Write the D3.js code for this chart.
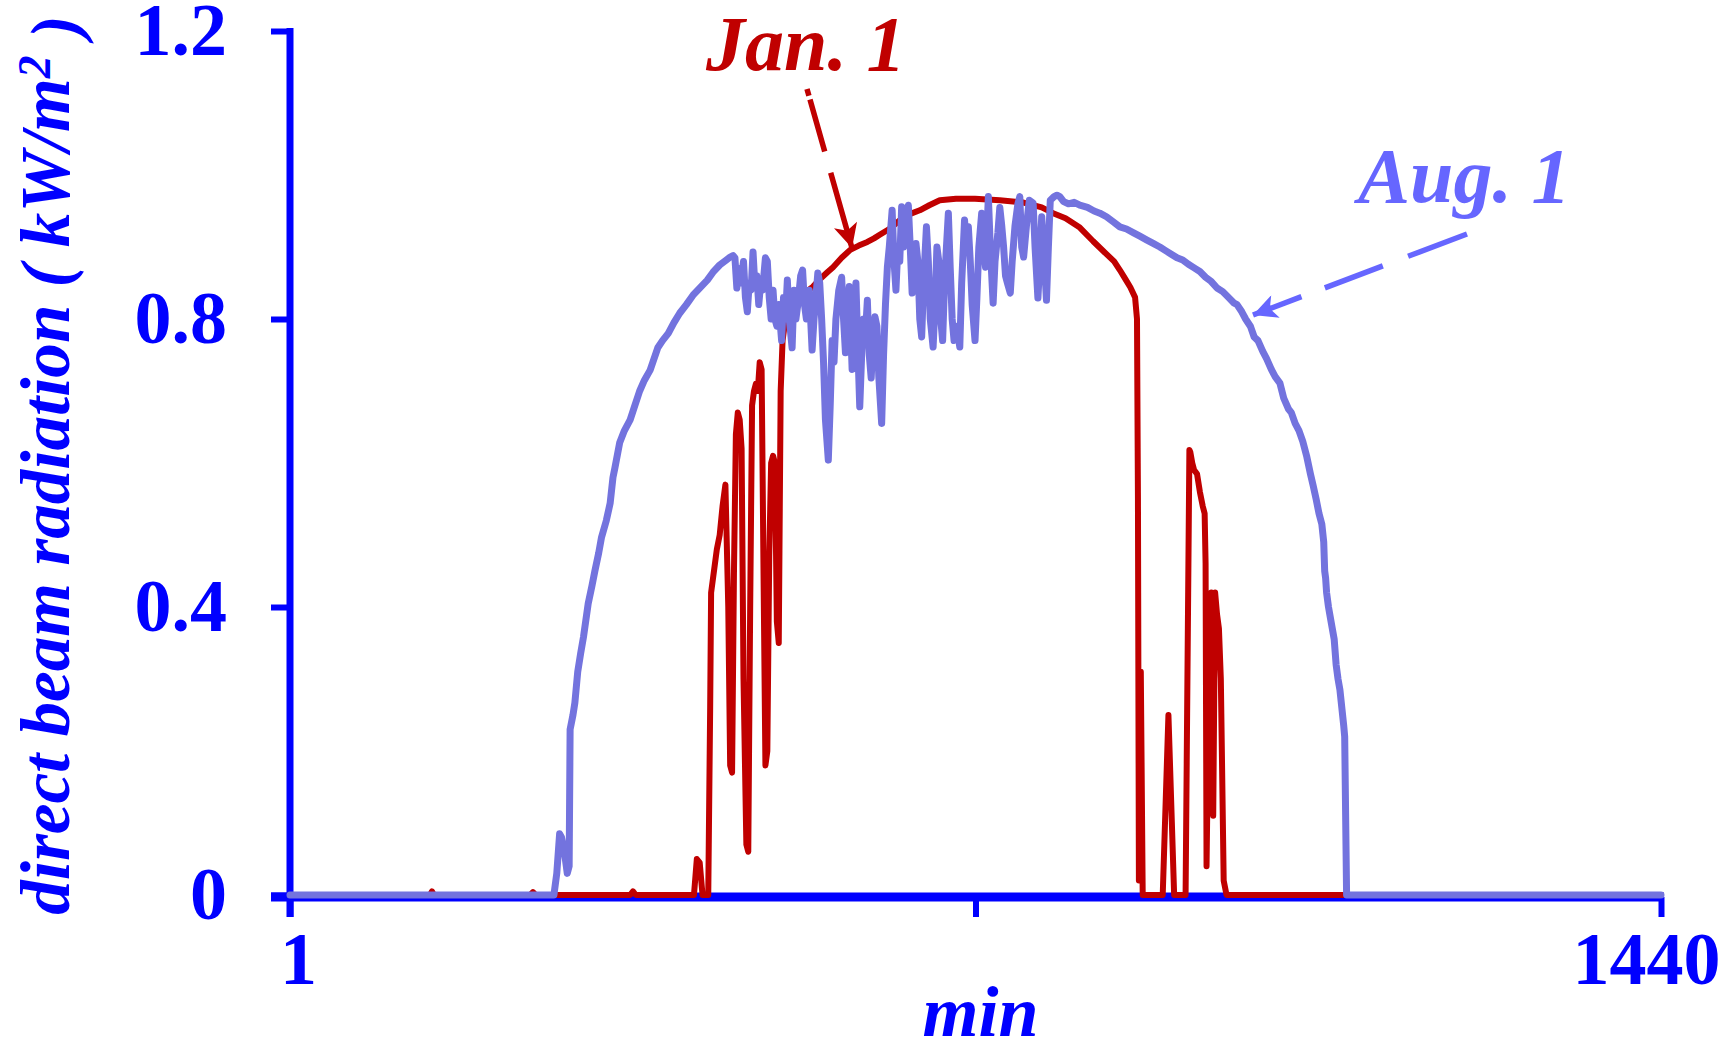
<!DOCTYPE html>
<html>
<head>
<meta charset="utf-8">
<script src="https://cdn.jsdelivr.net/npm/d3@7"></script>
<style>
html, body { margin: 0; padding: 0; background: #fff; }
svg { display: block; }
text { font-family: "Liberation Serif", "Times New Roman", serif; }
</style>
</head>
<body>
<svg id="chart" width="1736" height="1052"></svg>
<script>
// minute of day, direct beam radiation (kW/m2)
const jan1 = [
  [1,0],[148,0],[150,0.005],[152,0],[253,0],[256,0.004],[259,0],[358,0],[361,0.005],[364,0],
  [425,0],[428,0.05],[431,0.045],[434,0],[440,0],[442,0.26],[443,0.42],[446,0.45],[449,0.48],
  [452,0.5],[455,0.54],[458,0.57],[461,0.4],[463,0.18],[465,0.17],[467,0.45],[469,0.64],
  [471,0.67],[473,0.66],[475,0.62],[477,0.3],[480,0.07],[482,0.06],[484,0.4],[486,0.68],
  [488,0.7],[490,0.71],[492,0.7],[494,0.74],[496,0.73],[498,0.45],[500,0.18],[502,0.2],
  [504,0.47],[506,0.6],[508,0.61],[510,0.6],[512,0.38],[514,0.35],[516,0.7],[518,0.77],
  [521,0.8],[525,0.82],[530,0.83],[540,0.835],[550,0.845],[557,0.855],[565,0.865],[571,0.872],
  [580,0.885],[589,0.896],[598,0.902],[607,0.907],[614,0.912],[620,0.917],[630,0.925],
  [641,0.937],[650,0.945],[662,0.951],[672,0.958],[683,0.965],[700,0.967],[720,0.967],
  [746,0.965],[770,0.962],[790,0.955],[802,0.947],[815,0.94],[830,0.927],[844,0.908],
  [858,0.89],[866,0.88],[872,0.868],[878,0.855],[883,0.844],[888,0.83],[890,0.8],[891,0.55],
  [892,0.02],[894,0.31],[896,0],[917,0],[923,0.25],[929,0],[941,0],[945,0.618],[946,0.615],
  [948,0.6],[950,0.59],[953,0.585],[956,0.56],[959,0.54],[961,0.53],[962,0.46],[963,0.04],
  [966,0.35],[968,0.42],[970,0.11],[972,0.42],[974,0.39],[976,0.37],[978,0.3],[981,0.02],
  [984,0],[1440,0]
];

const aug1 = [
  [1,0],[278,0],[281,0.03],[284,0.085],[286,0.08],[289,0.06],[292,0.03],[294,0.04],[295,0.23],
  [298,0.25],[300,0.267],[303,0.31],[306,0.335],[309,0.358],[314,0.405],[318,0.43],[321,0.45],
  [325,0.475],[328,0.497],[333,0.52],[337,0.544],[340,0.58],[342,0.593],[347,0.628],[352,0.645],
  [358,0.66],[363,0.68],[368,0.7],[373,0.715],[379,0.729],[387,0.76],[392,0.77],[398,0.78],
  [404,0.795],[410,0.808],[417,0.82],[424,0.833],[431,0.843],[439,0.854],[445,0.865],[452,0.875],
  [459,0.882],[463,0.886],[466,0.888],[468,0.885],[470,0.843],[472,0.87],[474,0.85],[477,0.88],
  [479,0.83],[481,0.81],[483,0.85],[485,0.84],[487,0.893],[489,0.845],[491,0.86],[493,0.82],
  [495,0.85],[497,0.84],[500,0.885],[502,0.88],[504,0.83],[506,0.8],[508,0.84],[510,0.8],
  [512,0.79],[514,0.82],[517,0.77],[519,0.83],[521,0.8],[523,0.854],[525,0.8],[528,0.76],
  [530,0.84],[532,0.8],[534,0.82],[537,0.86],[539,0.868],[541,0.82],[543,0.8],[546,0.84],
  [549,0.757],[551,0.8],[553,0.83],[555,0.864],[557,0.85],[559,0.8],[561,0.74],[563,0.66],
  [566,0.604],[568,0.68],[570,0.77],[572,0.74],[574,0.8],[577,0.84],[580,0.858],[582,0.8],
  [584,0.753],[586,0.81],[588,0.845],[591,0.73],[593,0.79],[595,0.85],[597,0.76],[599,0.678],
  [601,0.75],[603,0.8],[605,0.78],[607,0.826],[609,0.75],[611,0.718],[613,0.77],[615,0.803],
  [617,0.79],[619,0.72],[622,0.655],[624,0.75],[626,0.82],[628,0.872],[630,0.9],[633,0.951],
  [635,0.88],[637,0.84],[639,0.9],[641,0.88],[643,0.956],[645,0.9],[647,0.94],[650,0.958],
  [652,0.9],[654,0.836],[656,0.86],[658,0.905],[660,0.88],[662,0.8],[664,0.775],[666,0.85],
  [669,0.928],[671,0.88],[673,0.8],[676,0.761],[678,0.82],[680,0.9],[682,0.88],[684,0.8],
  [686,0.77],[688,0.85],[690,0.9],[692,0.947],[694,0.87],[696,0.8],[698,0.77],[700,0.79],
  [702,0.78],[704,0.761],[706,0.85],[709,0.9375],[711,0.9],[713,0.928],[715,0.88],[717,0.82],
  [720,0.77],[722,0.83],[724,0.9],[727,0.947],[729,0.9],[731,0.872],[734,0.97],[736,0.9],
  [739,0.822],[741,0.88],[744,0.92],[746,0.955],[748,0.93],[750,0.9],[752,0.86],[754,0.85],
  [757,0.836],[759,0.88],[762,0.93],[765,0.96],[767,0.97],[769,0.9],[771,0.886],[774,0.93],
  [777,0.965],[781,0.961],[783,0.9],[786,0.829],[788,0.88],[790,0.942],[792,0.9],[795,0.826],
  [797,0.9],[799,0.965],[803,0.97],[806,0.972],[809,0.97],[813,0.963],[818,0.96],[824,0.962],
  [830,0.958],[838,0.955],[845,0.95],[851,0.947],[858,0.942],[865,0.935],[872,0.928],[879,0.925],
  [886,0.92],[893,0.915],[900,0.91],[907,0.905],[914,0.9],[920,0.895],[926,0.89],[932,0.885],
  [938,0.882],[944,0.876],[950,0.871],[956,0.866],[962,0.858],[968,0.852],[974,0.843],[980,0.838],
  [986,0.83],[992,0.822],[995,0.82],[1000,0.81],[1004,0.8],[1009,0.79],[1013,0.775],[1017,0.77],
  [1022,0.755],[1026,0.745],[1031,0.73],[1035,0.72],[1040,0.711],[1044,0.69],[1049,0.675],
  [1052,0.67],[1056,0.655],[1060,0.645],[1064,0.63],[1068,0.61],[1072,0.585],[1075,0.568],
  [1078,0.55],[1081,0.53],[1084,0.515],[1086,0.49],[1087,0.45],[1088,0.44],[1089,0.42],
  [1091,0.4],[1093,0.385],[1095,0.37],[1097,0.355],[1099,0.32],[1101,0.3],[1103,0.285],
  [1105,0.26],[1107,0.235],[1108,0.22],[1110,0],[1440,0]
];

const yTicks = [0, 0.4, 0.8, 1.2];
const yTickLabels = ["0", "0.4", "0.8", "1.2"];
const xTicks = [1, 720.5, 1440];
const xTickLabels = ["1", "", "1440"];

const AXIS = "#0000ff";
const RED = "#c00000";
const LAV = "#7373de";
const AUGTXT = "#6666ff";

const svg = d3.select("#chart");

const x = d3.scaleLinear().domain([1, 1440]).range([290, 1661]);
const y = d3.scaleLinear().domain([0, 1.2]).range([895, 31]);

// y axis
const gy = svg.append("g")
  .attr("transform", `translate(${x(1)},0)`)
  .call(d3.axisLeft(y).tickValues(yTicks).tickSize(19).tickPadding(44)
    .tickFormat((d, i) => yTickLabels[i]));
gy.select(".domain").remove();
gy.selectAll(".tick line").attr("stroke", AXIS).attr("stroke-width", 6);
gy.selectAll(".tick text")
  .attr("fill", AXIS)
  .style("font-family", '"Liberation Serif", serif')
  .style("font-weight", "bold")
  .style("font-size", "74px");
svg.append("line")
  .attr("x1", x(1)).attr("x2", x(1))
  .attr("y1", y(1.2) - 3).attr("y2", 917)
  .attr("stroke", AXIS).attr("stroke-width", 7);

// x axis
const gx = svg.append("g")
  .attr("transform", `translate(0,897)`)
  .call(d3.axisBottom(x).tickValues(xTicks).tickSize(20).tickPadding(14)
    .tickFormat((d, i) => xTickLabels[i]));
gx.select(".domain").remove();
gx.selectAll(".tick line").attr("stroke", AXIS).attr("stroke-width", 6);
const xLabelShift = [8, 0, -15];
gx.selectAll(".tick text")
  .attr("fill", AXIS)
  .attr("dx", (d, i) => xLabelShift[i])
  .style("font-family", '"Liberation Serif", serif')
  .style("font-weight", "bold")
  .style("font-size", "74px");
svg.append("line")
  .attr("x1", 271).attr("x2", x(1440) + 3)
  .attr("y1", 897).attr("y2", 897)
  .attr("stroke", AXIS).attr("stroke-width", 9);

// axis titles
svg.append("text")
  .attr("x", x(720.5) + 5).attr("y", 1036)
  .attr("text-anchor", "middle")
  .attr("fill", AXIS)
  .style("font-weight", "bold").style("font-style", "italic").style("font-size", "72px")
  .text("min");

const yTitle = svg.append("text")
  .attr("transform", "translate(69,465) rotate(-90)")
  .attr("text-anchor", "middle")
  .attr("fill", AXIS)
  .style("font-weight", "bold").style("font-style", "italic").style("font-size", "66px");
yTitle.append("tspan").text("direct beam radiation ( kW/m");
yTitle.append("tspan").attr("dy", "-0.42em").style("font-size", "44px").text("2");
yTitle.append("tspan").attr("dy", "0.42em").text(" )");
// fit to the height of the reference title
const tlen = yTitle.node().getComputedTextLength();
const fs = 66 * 900 / tlen;
yTitle.style("font-size", fs + "px");
yTitle.selectAll("tspan").filter((d, i) => i === 1).style("font-size", (fs * 0.66) + "px");

// data lines
const line = d3.line().x(d => x(d[0])).y(d => y(d[1]));
svg.append("path").datum(jan1).attr("d", line)
  .attr("fill", "none").attr("stroke", RED).attr("stroke-width", 6)
  .attr("stroke-linejoin", "round").attr("stroke-linecap", "round");
svg.append("path").datum(aug1).attr("d", line)
  .attr("fill", "none").attr("stroke", LAV).attr("stroke-width", 7)
  .attr("stroke-linejoin", "round").attr("stroke-linecap", "round");

// annotations
const defs = svg.append("defs");
function arrowMarker(id, color) {
  defs.append("marker")
    .attr("id", id)
    .attr("viewBox", "0 0 10 10")
    .attr("refX", 10).attr("refY", 5)
    .attr("markerUnits", "userSpaceOnUse")
    .attr("markerWidth", 26).attr("markerHeight", 24)
    .attr("orient", "auto")
    .append("path").attr("d", "M0,0 L10,5 L0,10 L2.5,5 Z").attr("fill", color);
}
arrowMarker("headJan", RED);
arrowMarker("headAug", AUGTXT);

svg.append("line")
  .attr("x1", 807).attr("y1", 89).attr("x2", 852).attr("y2", 248)
  .attr("stroke", RED).attr("stroke-width", 5.5)
  .attr("stroke-dasharray", "7,4,54,22,300")
  .attr("marker-end", "url(#headJan)");
svg.append("line")
  .attr("x1", 1467).attr("y1", 234).attr("x2", 1253).attr("y2", 315)
  .attr("stroke", AUGTXT).attr("stroke-width", 5.5)
  .attr("stroke-dasharray", "63,27,62,25,300")
  .attr("marker-end", "url(#headAug)");

svg.append("text")
  .attr("x", 706).attr("y", 70)
  .attr("fill", RED)
  .style("font-weight", "bold").style("font-style", "italic").style("font-size", "78px")
  .text("Jan. 1");
svg.append("text")
  .attr("x", 1358).attr("y", 202)
  .attr("fill", AUGTXT)
  .style("font-weight", "bold").style("font-style", "italic").style("font-size", "78px")
  .text("Aug. 1");
</script>
</body>
</html>
